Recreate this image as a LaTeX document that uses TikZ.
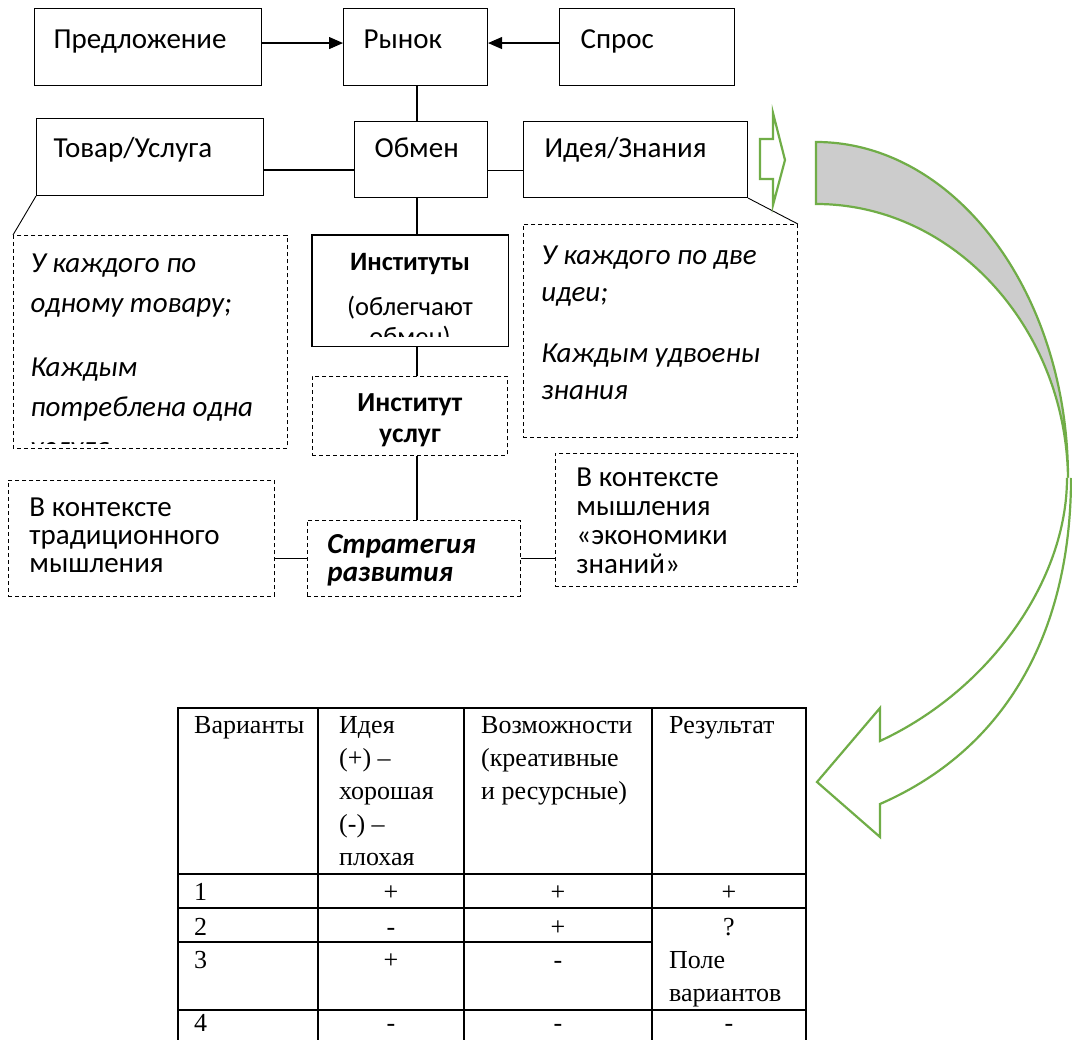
\documentclass[tikz,border=0pt]{standalone}
\usepackage{fontspec}
\setmainfont{Carlito}
\newfontfamily\tablefont{Liberation Serif}
\usetikzlibrary{arrows.meta}

\definecolor{shapegreen}{HTML}{70AD47}
\definecolor{shadegray}{HTML}{CCCCCC}

\tikzset{
    box/.style={draw, line width=1.1pt, anchor=north west, inner ysep=0pt, align=flush left},
    dashbox/.style={box, dashed, dash pattern=on 4pt off 3pt, line width=0.9pt},
    frame/.style={dashed, dash pattern=on 4pt off 3pt, line width=0.9pt},
    link/.style={line width=1.1pt},
    greenline/.style={draw=shapegreen, line width=2.2pt, line join=miter},
    cell/.style={font=\tablefont\fontsize{26}{33}\selectfont, inner sep=0pt},
    grid/.style={line width=2pt}
}

\begin{document}
\begin{tikzpicture}[x=1pt, y=-1pt]
    \path[use as bounding box, fill=white] (0,0) rectangle (1072,1040);

    % Market row
    \node[box, font=\fontsize{29}{34}\selectfont, inner xsep=19pt, text width=189pt,
        text height=40pt, text depth=37pt] (sup) at (34,8) {Предложение};
    \node[box, font=\fontsize{29}{34}\selectfont, inner xsep=20pt, text width=104pt,
        text height=40pt, text depth=37pt] (mkt) at (343,8) {Рынок};
    \node[box, font=\fontsize{29}{34}\selectfont, inner xsep=21pt, text width=133pt,
        text height=40pt, text depth=37pt] (dem) at (559,8) {Спрос};

    % Exchange row
    \node[box, font=\fontsize{29}{34}\selectfont, inner xsep=17pt, text width=193pt,
        text height=39pt, text depth=38pt] (goods) at (36,118) {Товар/Услуга};
    \node[box, font=\fontsize{29}{34}\selectfont, inner xsep=20pt, text width=93pt,
        text height=36pt, text depth=40pt] (exch) at (354,121) {Обмен};
    \node[box, font=\fontsize{29}{34}\selectfont, inner xsep=21pt, text width=182pt,
        text height=36pt, text depth=40pt] (idea) at (523,121) {Идея/Знания};

    % Notes under goods and ideas
    \begin{scope}
        \clip (13,235) rectangle (286,444);
        \node[box, draw=none, font=\itshape\fontsize{29}{40}\selectfont, inner xsep=17pt,
            text width=239pt, text height=37pt, text depth=175pt] (goodsnote) at (13,235)
            {У каждого по\\ одному товару;\\[24pt] Каждым\\ потреблена одна\\ услуга};
    \end{scope}
    \draw[frame] (goodsnote.north west) rectangle (goodsnote.south east);

    \node[dashbox, font=\itshape\fontsize{29}{37}\selectfont, inner xsep=18pt,
        text width=238pt, text height=40pt, text depth=173pt] (ideanote) at (523,224)
        {У каждого по две\\ идеи;\\[24pt] Каждым удвоены\\ знания};

    % Institutions
    \begin{scope}
        \clip (312,235) rectangle (507,337);
        \node[box, draw=none, align=flush center, font=\fontsize{26.5}{30}\selectfont, inner xsep=4pt,
            text width=187pt, text height=35pt, text depth=75pt] (inst) at (312,235)
            {\textbf{\fontsize{26.5}{30}\selectfont Институты}\\[15pt] (облегчают\\ обмен)};
    \end{scope}
    \draw[line width=1.1pt] (inst.north west) rectangle (inst.south east);

    \node[dashbox, align=flush center, font=\bfseries\fontsize{27.5}{31}\selectfont, inner xsep=4pt,
        text width=187pt, text height=35pt, text depth=44pt] (serv) at (312,376)
        {Институт\\ услуг};

    % Strategy row
    \node[dashbox, font=\fontsize{29}{28}\selectfont, inner xsep=21pt, text width=224pt,
        text height=36pt, text depth=80pt] (tradctx) at (8,480)
        {В контексте\\ традиционного\\ мышления};
    \node[dashbox, font=\bfseries\itshape\fontsize{29}{28}\selectfont, inner xsep=20pt,
        text width=173pt, text height=33pt, text depth=43pt] (strat) at (307,520)
        {Стратегия\\ развития};
    \node[dashbox, font=\fontsize{29}{29}\selectfont, inner xsep=21pt, text width=200pt,
        text height=33pt, text depth=100pt] (knowctx) at (555,453)
        {В контексте\\ мышления\\ «экономики\\ знаний»};

    % Connectors
    \coordinate (spine) at (417,0);
    \draw[link, -{Triangle[length=14pt,width=12pt]}] ([yshift=4pt]sup.east) -- ([yshift=4pt]mkt.west);
    \draw[link, -{Triangle[length=14pt,width=12pt]}] ([yshift=4pt]dem.west) -- ([yshift=4pt]mkt.east);
    \draw[link] (mkt.south -| spine) -- (exch.north -| spine);
    \draw[link] ([yshift=-13pt]goods.east) -- ([yshift=-13pt]goods.east -| exch.west);
    \draw[link] ([yshift=-11pt]exch.east) -- ([yshift=-11pt]exch.east -| idea.west);
    \draw[link] (exch.south -| spine) -- (inst.north -| spine);
    \draw[link] (inst.south -| spine) -- (serv.north -| spine);
    \draw[link] (serv.south -| spine) -- (strat.north -| spine);
    \draw[link] (strat.west -| tradctx.east) -- (strat.west);
    \draw[link] (strat.east) -- (strat.east -| knowctx.west);
    \draw[line width=0.9pt] (goods.south west) -- (goodsnote.north west);
    \draw[line width=0.9pt] (idea.south east) -- (ideanote.north east);

    % Green arrows
    \draw[greenline, fill=white] (760,139) -- (773,139) -- (773,113) -- (785,160)
        -- (773,205) -- (773,179) -- (760,179) -- cycle;
    \draw[greenline, fill=shadegray] (816,142) .. controls (955,142) and (1068,293) .. (1068,478)
        .. controls (1066,328) and (954,204) .. (816,204) -- cycle;
    \draw[greenline, fill=white] (1067,478) .. controls (1067,580) and (990,690) .. (880,741)
        -- (880,708) -- (817,782) -- (880,837) -- (880,804)
        .. controls (1015,745) and (1071,620) .. (1071,478);

    % Table
    \draw[grid] (178,708) -- (806,708);
    \draw[grid] (178,874) -- (806,874);
    \draw[grid] (178,908) -- (806,908);
    \draw[grid] (178,942) -- (652,942);
    \draw[grid] (178,1010) -- (806,1010);
    \foreach \x in {178,318,464,652,806}
        \draw[grid] (\x,707) -- (\x,1040);

    \node[cell, anchor=base west] (hvar) at (194,733) {Варианты};
    \node[cell, anchor=base west, align=flush left, text width=125pt] (hidea) at (339,733)
        {Идея\\(+) –\\хорошая\\(-) –\\плохая};
    \node[cell, anchor=base west, align=flush left, text width=170pt] (hposs) at (481,733)
        {Возможности\\(креативные\\и ресурсные)};
    \node[cell, anchor=base west] (hres) at (669,733) {Результат};

    \foreach \r/\y/\a/\b/\c in {1/900/+/+/+, 2/935/-/+/?, 3/968/+/-/{}, 4/1031/-/-/-} {
        \node[cell, anchor=base west] (n\r) at (194,\y) {\r};
        \node[cell, anchor=base] (a\r) at (391,\y) {\a};
        \node[cell, anchor=base] (b\r) at (558,\y) {\b};
        \node[cell, anchor=base] (c\r) at (729,\y) {\c};
    }
    \node[cell, anchor=base west, align=flush left, text width=140pt] (field) at (669,968)
        {Поле\\вариантов};
\end{tikzpicture}
\end{document}
